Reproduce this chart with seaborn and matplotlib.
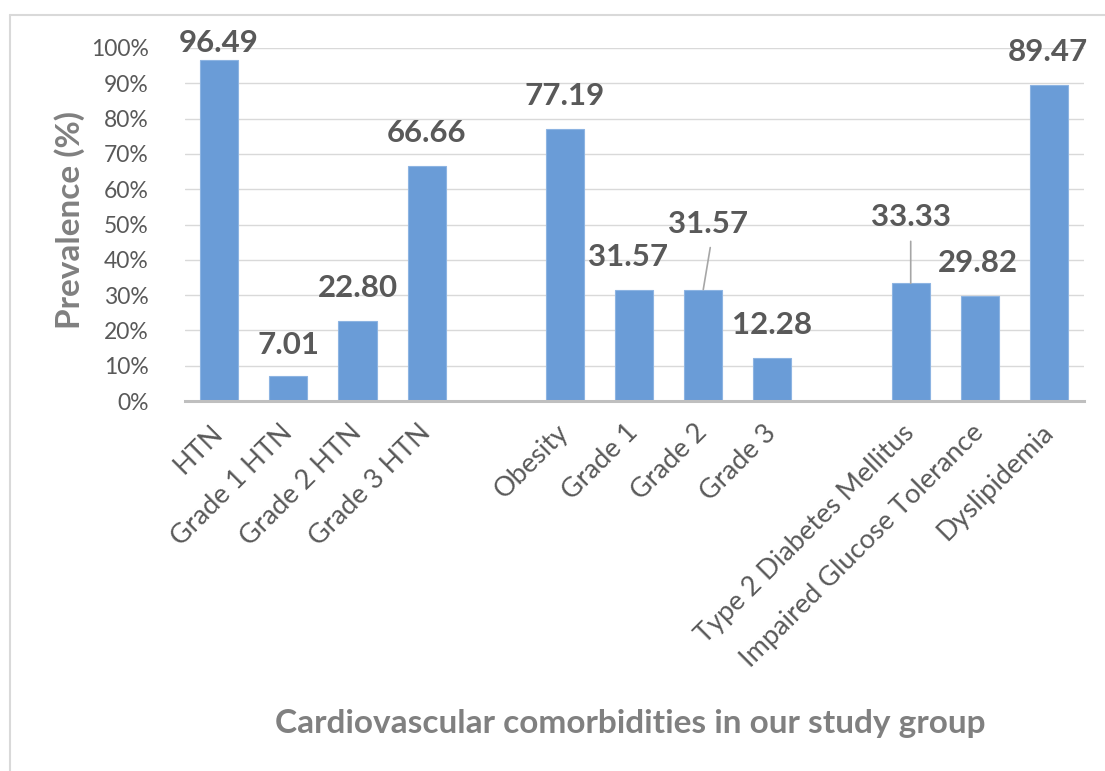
#!/usr/bin/env python3

import numpy as np
import pandas as pd
import matplotlib.pyplot as plt
from matplotlib.lines import Line2D
import seaborn as sns

# data (blank slots are the gaps between groups)
categories = ["HTN", "Grade 1 HTN", "Grade 2 HTN", "Grade 3 HTN", " ",
              "Obesity", "Grade 1", "Grade 2", "Grade 3", "  ",
              "Type 2 Diabetes Mellitus", "Impaired Glucose Tolerance", "Dyslipidemia"]
prevalence = [96.49, 7.01, 22.80, 66.66, np.nan,
              77.19, 31.57, 31.57, 12.28, np.nan,
              33.33, 29.82, 89.47]
value_labels = ["96.49", "7.01", "22.80", "66.66", "",
                "77.19", "31.57", "31.57", "12.28", "",
                "33.33", "29.82", "89.47"]
yticks = [0, 10, 20, 30, 40, 50, 60, 70, 80, 90, 100]

# label offsets in pixels (dx, dy) from bar top, and which ones get a leader line
label_off = [(0, 17), (0, 31), (0, 33), (0, 33), None,
             (0, 33), (-6, 33), (5, 66), (0, 33), None,
             (0, 66), (-2, 33), (-1, 33)]
leader = [False] * 13
leader[7] = True
leader[10] = True

df = pd.DataFrame({"cat": categories, "val": prevalence})

sns.set_theme(style="white")
plt.rcParams["font.family"] = ["Lato", "DejaVu Sans"]

fig = plt.figure(figsize=(11.05, 7.71), dpi=100)
ax = fig.add_axes([184.6 / 1105, 1 - 401 / 771, 899 / 1105, 353 / 771])

sns.barplot(data=df, x="cat", y="val", order=categories, color="#6A9CD7",
            width=0.55, saturation=1, edgecolor="#8DB4E2", linewidth=0.8,
            errorbar=None, ax=ax, zorder=3)

ax.set_ylim(0, 100)
ax.set_xlim(-0.5, len(categories) - 0.5)
ax.set_yticks(yticks)
ax.set_yticklabels([f"{t}%" for t in yticks], fontsize=16.5, color="#595959")
ax.yaxis.grid(True, color="#D9D9D9", lw=1)
ax.set_axisbelow(True)
ax.tick_params(axis="y", length=0, pad=26)
ax.tick_params(axis="x", length=0, pad=20)
for s in ["left", "right", "top"]:
    ax.spines[s].set_visible(False)
ax.spines["bottom"].set_color("#BFBFBF")
ax.spines["bottom"].set_linewidth(2.2)
ax.spines["bottom"].set_zorder(4)

ax.set_xticks(range(len(categories)))
ax.set_xticklabels(categories, fontsize=19.5, color="#595959",
                   rotation=45, ha="right", rotation_mode="anchor", va="center")
ax.set_xlabel("")
ax.set_ylabel("")

for i, (v, lab) in enumerate(zip(prevalence, value_labels)):
    if not lab:
        continue
    dx, dy = label_off[i]
    ax.annotate(lab, xy=(i, v), xytext=(dx, dy), textcoords="offset pixels",
                ha="center", va="center", fontsize=22.5, fontweight="bold",
                color="#595959", annotation_clip=False)
    if leader[i]:
        ax.annotate("", xy=(i, v), xytext=(dx * 1.4, dy - 24),
                    textcoords="offset pixels", annotation_clip=False,
                    arrowprops=dict(arrowstyle="-", color="#A6A6A6", lw=1.2,
                                    shrinkA=0, shrinkB=0))

fig.text(70 / 1105, 1 - 220 / 771, "Prevalence (%)", rotation=90, ha="center",
         va="center", fontsize=24, fontweight="bold", color="#808080")
fig.text(630 / 1105, 1 - 723 / 771, "Cardiovascular comorbidities in our study group",
         ha="center", va="center", fontsize=24, fontweight="bold", color="#808080")

# chart area border
fig.add_artist(Line2D([10 / 1105, 10 / 1105], [0, 1 - 15 / 771], color="#D9D9D9", lw=1.5))
fig.add_artist(Line2D([10 / 1105, 1], [1 - 15 / 771, 1 - 15 / 771], color="#D9D9D9", lw=1.5))

fig.savefig("out.png", dpi=100)
plt.close()
